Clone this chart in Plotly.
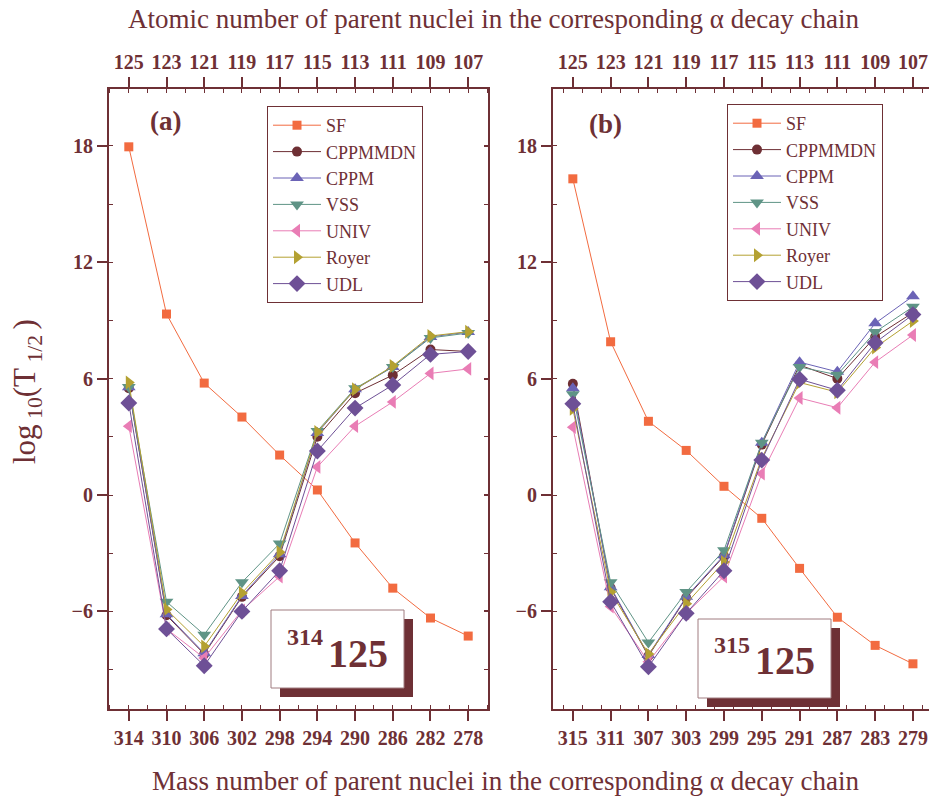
import plotly.graph_objects as go

W, H = 929, 803
OFF = 0  # body margin removed via post_script
BROWN = "#6E3035"
FONT = "Liberation Serif"

# ---------------- data ----------------
mass_a = [314, 310, 306, 302, 298, 294, 290, 286, 282, 278]
mass_b = [315, 311, 307, 303, 299, 295, 291, 287, 283, 279]
z_labels = ["125", "123", "121", "119", "117", "115", "113", "111", "109", "107"]

series_names = ["SF", "CPPMMDN", "CPPM", "VSS", "UNIV", "Royer", "UDL"]

sf_a = [17.95, 9.33, 5.77, 4.02, 2.06, 0.26, -2.47, -4.8, -6.34, -7.27]
cppmmdn_a = [5.5, -6.2, -8.2, -5.25, -3.15, 3.0, 5.25, 6.18, 7.5, 7.4]
cppm_a = [5.55, -6.15, -8.15, -5.2, -3.05, 3.2, 5.45, 6.6, 8.15, 8.4]
vss_a = [5.57, -5.5, -7.2, -4.5, -2.5, 3.3, 5.5, 6.6, 8.1, 8.35]
univ_a = [3.55, -6.9, -8.4, -5.95, -4.2, 1.45, 3.55, 4.8, 6.27, 6.5]
royer_a = [5.8, -5.9, -7.8, -5.05, -2.95, 3.25, 5.45, 6.65, 8.2, 8.42]
udl_a = [4.74, -6.9, -8.8, -6.0, -3.9, 2.27, 4.48, 5.67, 7.25, 7.4]

sf_b = [16.3, 7.9, 3.8, 2.3, 0.45, -1.2, -3.78, -6.3, -7.75, -8.7]
cppmmdn_b = [5.73, -4.8, -8.3, -5.3, -3.15, 2.6, 6.7, 6.0, 8.15, 9.4]
cppm_b = [5.5, -4.75, -8.25, -5.25, -3.1, 2.7, 6.85, 6.35, 8.85, 10.25]
vss_b = [5.2, -4.5, -7.6, -5.0, -2.85, 2.7, 6.6, 6.2, 8.4, 9.7]
univ_b = [3.5, -5.75, -8.6, -6.1, -4.2, 1.1, 5.0, 4.5, 6.85, 8.25]
royer_b = [4.45, -5.0, -8.2, -5.6, -3.45, 1.9, 5.8, 5.3, 7.6, 8.97]
udl_b = [4.7, -5.5, -8.85, -6.1, -3.9, 1.8, 5.97, 5.4, 7.85, 9.3]

y_ticks = [-6, 0, 6, 12, 18]

# ---------------- styles ----------------
colors = ["#F26B40", "#6E2F34", "#6B63B6", "#5F9486", "#E97DB5", "#B4A132", "#6E5096"]
symbols = ["square", "circle", "triangle-up", "triangle-down", "triangle-left", "triangle-right", "diamond"]
msizes = [9, 10, 12, 12, 12, 12, 13]

data_a = [sf_a, cppmmdn_a, cppm_a, vss_a, univ_a, royer_a, udl_a]
data_b = [sf_b, cppmmdn_b, cppm_b, vss_b, univ_b, royer_b, udl_b]


def px(x):
    return (x - OFF) / W


def py(y):
    return 1 - (y - OFF) / H


fig = go.Figure()

for i, name in enumerate(series_names):
    fig.add_trace(go.Scatter(
        x=mass_a, y=data_a[i], name=name, mode="lines+markers",
        line=dict(color=colors[i], width=1),
        marker=dict(symbol=symbols[i], size=msizes[i], color=colors[i]),
        xaxis="x", yaxis="y", legend="legend"))
for i, name in enumerate(series_names):
    fig.add_trace(go.Scatter(
        x=mass_b, y=data_b[i], name=name, mode="lines+markers",
        line=dict(color=colors[i], width=1),
        marker=dict(symbol=symbols[i], size=msizes[i], color=colors[i]),
        xaxis="x2", yaxis="y2", legend="legend2"))

tickfont = dict(family=FONT, size=20, color=BROWN, weight="bold")
ydom = [py(709), py(89)]
yrange = [-11.03, 20.93]
xdom_a = [px(109), px(488)]
xdom_b = [px(553), 1.0]
# right panel: 315 at x=572, 279 at x=913 (9.447 px per unit)
xr_a = [316.1, 275.9]
xr_b = [317.1, 277.3]

common_x = dict(showline=True, linecolor=BROWN, linewidth=2, showgrid=False, zeroline=False,
                ticks="outside", ticklen=10, tickwidth=2, tickcolor=BROWN, tickfont=tickfont,
                tickmode="array",
                minor=dict(ticks="inside", ticklen=4, tickwidth=1, tickcolor=BROWN, dtick=2, tick0=0, showgrid=False))
common_y = dict(showline=True, linecolor=BROWN, linewidth=2, showgrid=False, zeroline=False,
                ticks="outside", ticklen=10, tickwidth=2, tickcolor=BROWN, tickfont=tickfont,
                tickmode="array", tickvals=y_ticks, range=yrange, domain=ydom,
                minor=dict(ticks="inside", ticklen=4, tickwidth=1, tickcolor=BROWN, dtick=3, tick0=0, showgrid=False))

legend_common = dict(xanchor="left", yanchor="top", bordercolor=BROWN, borderwidth=1, bgcolor="white",
                     font=dict(family=FONT, size=18, color=BROWN), itemwidth=48, tracegroupgap=0)

fig.update_layout(
    width=W, height=H, margin=dict(l=0, r=0, t=0, b=0),
    paper_bgcolor="white", plot_bgcolor="white",
    xaxis=dict(common_x, domain=xdom_a, range=xr_a, anchor="y", tickvals=mass_a),
    yaxis=dict(common_y, anchor="x"),
    xaxis3=dict(common_x, range=xr_a, anchor="y", overlaying="x", side="top",
                tickvals=mass_a, ticktext=z_labels),
    yaxis3=dict(common_y, anchor="x", overlaying="y", side="right", showticklabels=False,
                ticks="inside", ticklen=4),
    xaxis2=dict(common_x, domain=xdom_b, range=xr_b, anchor="y2", tickvals=mass_b),
    yaxis2=dict(common_y, anchor="x2"),
    xaxis4=dict(common_x, range=xr_b, anchor="y2", overlaying="x2", side="top",
                tickvals=mass_b, ticktext=z_labels),
    legend=dict(legend_common, x=px(267), y=py(106)),
    legend2=dict(legend_common, x=px(727), y=py(104)),
    showlegend=True,
)

# invisible traces so the overlay axes render
fig.add_trace(go.Scatter(x=mass_a, y=sf_a, xaxis="x3", yaxis="y", mode="lines",
                         line=dict(width=0), opacity=0, showlegend=False, hoverinfo="skip"))
fig.add_trace(go.Scatter(x=mass_a, y=sf_a, xaxis="x", yaxis="y3", mode="lines",
                         line=dict(width=0), opacity=0, showlegend=False, hoverinfo="skip"))
fig.add_trace(go.Scatter(x=mass_b, y=sf_b, xaxis="x4", yaxis="y2", mode="lines",
                         line=dict(width=0), opacity=0, showlegend=False, hoverinfo="skip"))

# nuclide label boxes (shadow + white box)
shapes = []
for (x0, y0, x1, y1, dx, dy) in [(271, 610, 404, 688, 9, 9), (698, 619, 831, 698, 9, 9)]:
    shapes.append(dict(type="rect", xref="paper", yref="paper",
                       x0=px(x0 + dx), x1=px(x1 + dx), y0=py(y1 + dy), y1=py(y0 + dy),
                       fillcolor=BROWN, line=dict(width=0), layer="above"))
    shapes.append(dict(type="rect", xref="paper", yref="paper",
                       x0=px(x0), x1=px(x1), y0=py(y1), y1=py(y0),
                       fillcolor="white", line=dict(color="#A07C80", width=1), layer="above"))
fig.update_layout(shapes=shapes)

ann = []


def add_text(text, x, y, size, bold=False, xanchor="center", angle=0):
    ann.append(dict(text=text, x=px(x), y=py(y), xref="paper", yref="paper",
                    xanchor=xanchor, yanchor="middle", showarrow=False, textangle=angle,
                    font=dict(family=FONT, size=size, color=BROWN, weight="bold" if bold else "normal")))


add_text("Atomic number of parent nuclei in the corresponding α decay chain", 494, 19, 27)
add_text("Mass number of parent nuclei in the corresponding α decay chain", 505, 781, 27)
add_text("log<sub> 10</sub>(T<sub> 1/2 </sub>)", 27, 392, 31, angle=-90)
add_text("(a)", 165, 121, 27, bold=True)
add_text("(b)", 605, 124, 27, bold=True)
add_text("314", 325, 637, 24, bold=True, xanchor="right")
add_text("125", 326, 653, 40, bold=True, xanchor="left")
add_text("315", 752, 645, 24, bold=True, xanchor="right")
add_text("125", 753, 660, 40, bold=True, xanchor="left")
fig.update_layout(annotations=ann)

fig.write_html(
    "out.html",
    config={"displayModeBar": False},
    post_script="document.body.style.margin='0';document.body.style.overflow='hidden';",
)
